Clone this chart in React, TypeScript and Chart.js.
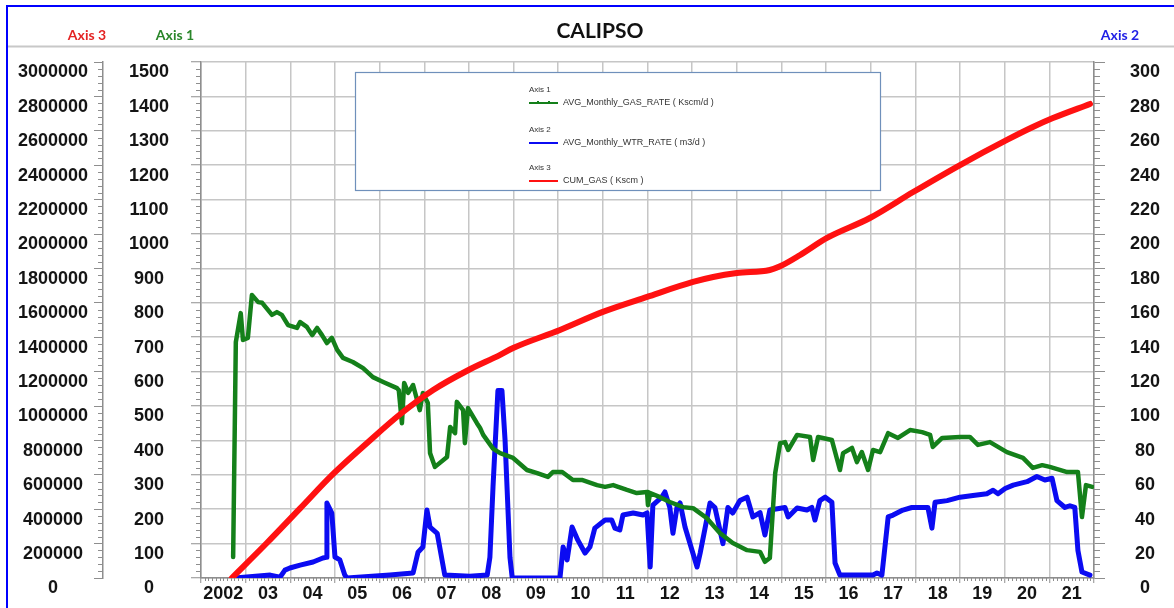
import React, { useEffect, useRef } from "react";
import { Chart, registerables } from "chart.js";

Chart.register(...registerables);

// ---------- text ----------
const TITLE = "CALIPSO";
const AXIS1_NAME = "Axis 1";
const AXIS2_NAME = "Axis 2";
const AXIS3_NAME = "Axis 3";
const GAS_LABEL = "AVG_Monthly_GAS_RATE ( Kscm/d )";
const WTR_LABEL = "AVG_Monthly_WTR_RATE ( m3/d )";
const CUM_LABEL = "CUM_GAS ( Kscm )";
const YEAR_LABELS = ["2002", "03", "04", "05", "06", "07", "08", "09", "10", "11", "12", "13", "14", "15", "16", "17", "18", "19", "20", "21", ""];

// ---------- axes ----------
const X_MIN = 2002;
const X_MAX = 2022;
const AXIS1_MAX = 1500;
const AXIS1_STEP = 100;
const AXIS2_MAX = 300;
const AXIS2_STEP = 20;
const AXIS3_MAX = 3000000;
const AXIS3_STEP = 200000;

// ---------- series: AVG_Monthly_GAS_RATE (Axis 1) ----------
const gasYears = [
  2002.72, 2002.78, 2002.89, 2002.94, 2003.05, 2003.14, 2003.28, 2003.37, 2003.59, 2003.70,
  2003.81, 2003.95, 2004.15, 2004.22, 2004.37, 2004.49, 2004.60, 2004.71, 2004.82, 2004.93,
  2005.05, 2005.18, 2005.40, 2005.63, 2005.85, 2006.08, 2006.39, 2006.43, 2006.50, 2006.55,
  2006.64, 2006.75, 2006.90, 2006.97, 2007.08, 2007.13, 2007.24, 2007.51, 2007.58, 2007.69,
  2007.73, 2007.87, 2007.91, 2007.98, 2008.18, 2008.25, 2008.32, 2008.54, 2008.70, 2008.99,
  2009.30, 2009.53, 2009.77, 2009.88, 2010.09, 2010.33, 2010.53, 2010.87, 2011.05, 2011.23,
  2011.54, 2011.76, 2011.99, 2012.01, 2012.06, 2012.28, 2012.50, 2012.80, 2013.02, 2013.33,
  2013.62, 2013.91, 2014.23, 2014.52, 2014.63, 2014.74, 2014.86, 2014.97, 2015.08, 2015.15,
  2015.35, 2015.64, 2015.71, 2015.82, 2016.13, 2016.31, 2016.38, 2016.58, 2016.69, 2016.80,
  2016.94, 2017.05, 2017.21, 2017.39, 2017.61, 2017.88, 2018.15, 2018.33, 2018.39, 2018.60,
  2019.00, 2019.22, 2019.40, 2019.67, 2020.05, 2020.41, 2020.63, 2020.84, 2021.01, 2021.40,
  2021.64, 2021.73, 2021.82, 2021.96,
];
const gasRate = [
  61, 686, 770, 692, 698, 823, 802, 800, 765, 773,
  765, 735, 727, 744, 730, 706, 727, 706, 683, 698,
  663, 640, 628, 610, 584, 570, 552, 546, 450, 567,
  538, 561, 488, 538, 509, 363, 323, 352, 439, 421,
  512, 488, 392, 494, 450, 436, 416, 376, 363, 349,
  314, 305, 294, 308, 308, 285, 285, 270, 265, 270,
  256, 247, 250, 212, 247, 235, 221, 206, 203, 174,
  131, 102, 81, 76, 47, 58, 305, 392, 395, 372,
  416, 410, 343, 410, 401, 314, 363, 378, 337, 366,
  314, 372, 366, 421, 407, 430, 424, 416, 381, 407,
  410, 410, 387, 395, 366, 349, 320, 328, 323, 308,
  308, 177, 270, 265,
];

// ---------- series: AVG_Monthly_WTR_RATE (Axis 2) ----------
const wtrYears = [
  2002.76, 2003.55, 2003.77, 2003.88, 2003.99, 2004.22, 2004.51, 2004.73, 2004.80, 2004.82,
  2004.93, 2005.00, 2005.11, 2005.22, 2005.27, 2006.23, 2006.75, 2006.86, 2006.97, 2007.06,
  2007.13, 2007.29, 2007.46, 2008.02, 2008.41, 2008.47, 2008.54, 2008.65, 2008.74, 2008.81,
  2008.92, 2008.97, 2010.04, 2010.11, 2010.20, 2010.31, 2010.44, 2010.60, 2010.71, 2010.82,
  2011.05, 2011.20, 2011.27, 2011.38, 2011.45, 2011.68, 2011.90, 2011.99, 2012.06, 2012.12,
  2012.32, 2012.39, 2012.50, 2012.57, 2012.66, 2012.73, 2012.84, 2013.11, 2013.18, 2013.40,
  2013.51, 2013.69, 2013.80, 2013.91, 2014.07, 2014.23, 2014.36, 2014.52, 2014.63, 2014.74,
  2015.08, 2015.15, 2015.35, 2015.57, 2015.68, 2015.75, 2015.86, 2015.98, 2016.13, 2016.20,
  2016.31, 2017.05, 2017.14, 2017.25, 2017.39, 2017.50, 2017.72, 2017.92, 2018.28, 2018.37,
  2018.44, 2018.71, 2019.00, 2019.29, 2019.60, 2019.74, 2019.85, 2020.01, 2020.19, 2020.50,
  2020.72, 2020.90, 2021.06, 2021.17, 2021.35, 2021.46, 2021.57, 2021.64, 2021.73, 2021.91,
];
const wtrRate = [
  0, 1.7, 0.5, 4.6, 5.8, 7.5, 9.3, 11.6, 12, 43.6,
  37.8, 12.2, 10.5, 1.7, 0, 1.7, 2.9, 15, 18, 39.5,
  29.6, 26, 1.7, 1, 1.7, 12, 53, 109, 109, 80,
  12, 0, 0, 18, 10.5, 29.6, 22, 14.5, 18, 29,
  33.7, 33.7, 29, 27.9, 36.6, 37.8, 36.6, 37.8, 6.4, 42.4,
  47, 50, 41, 26, 41, 43.6, 29.6, 6.4, 14.5, 43.6,
  41, 20, 41, 37.8, 45, 47, 35.5, 38, 25, 39.5,
  41, 35.5, 40.7, 39.5, 41, 33.7, 45, 47, 44, 8.7,
  1.7, 1.7, 2.9, 1.7, 35.5, 36.6, 39.5, 41, 41, 29,
  44, 45, 47, 48, 49, 51, 49, 52, 54, 56,
  59, 57, 58, 45, 41, 42, 41, 16, 3.5, 1.7,
];

// ---------- series: CUM_GAS (Axis 3) ----------
const cumYears = [
  2002.69, 2003.48, 2004.22, 2004.96, 2005.72, 2006.46, 2007.20, 2007.96, 2008.70,
  2008.99, 2010.04, 2011.00, 2011.99, 2013.02, 2013.47, 2014.00, 2014.74, 2014.97, 2015.42,
  2016.02, 2016.98, 2017.95, 2019.00, 2020.05, 2020.63, 2021.08, 2021.91,
];
const cumGas = [
  0, 205000, 405000, 605000, 785000, 952000, 1093000, 1205000, 1297000,
  1337000, 1442000, 1547000, 1634000, 1721000, 1750000, 1773000, 1791000, 1812000, 1878000,
  1977000, 2093000, 2244000, 2401000, 2547000, 2622000, 2674000, 2756000,
];

// ---------- styling ----------
const GREEN = "#14801a";
const BLUE = "#0b0bf2";
const RED = "#ff1111";
const GRID = "#c6c6c6";
const TICK = "#8e8e8e";
const TICK_FONT = "'Liberation Sans', Arial, sans-serif";
const HEAD_FONT = "Lato, 'Open Sans', sans-serif";

const zip = (xs: number[], ys: number[]) => xs.map((x, i) => ({ x, y: ys[i] }));

const decorPlugin = {
  id: "decor",
  beforeDraw(chart: any) {
    const ctx = chart.ctx;
    ctx.save();
    // outer frame (blue)
    ctx.strokeStyle = "#0000ff";
    ctx.lineWidth = 2;
    ctx.beginPath();
    ctx.moveTo(7, 608);
    ctx.lineTo(7, 6);
    ctx.lineTo(1174, 6);
    ctx.stroke();
    // header separator
    ctx.strokeStyle = "#c8c8c8";
    ctx.lineWidth = 2;
    ctx.beginPath();
    ctx.moveTo(8, 46.5);
    ctx.lineTo(1174, 46.5);
    ctx.stroke();
    // title
    ctx.textAlign = "center";
    ctx.textBaseline = "middle";
    ctx.fillStyle = "#111";
    ctx.font = `bold 21px ${HEAD_FONT}`;
    ctx.fillText(TITLE, 600, 31);
    // axis names
    ctx.font = `bold 14px ${HEAD_FONT}`;
    ctx.fillStyle = "#e42424";
    ctx.fillText(AXIS3_NAME, 87, 35);
    ctx.fillStyle = "#2a862a";
    ctx.fillText(AXIS1_NAME, 175, 35);
    ctx.fillStyle = "#2222e6";
    ctx.fillText(AXIS2_NAME, 1120, 35);
    ctx.restore();
  },
  afterDraw(chart: any) {
    const ctx = chart.ctx;
    const area = chart.chartArea;
    ctx.save();
    ctx.strokeStyle = TICK;
    ctx.lineWidth = 1;
    // minor ticks on y axes
    const ys = [
      { s: chart.scales.y3, left: true, len: 5 },
      { s: chart.scales.y1, left: true, len: 5 },
      { s: chart.scales.y2, left: false, len: 6 },
    ];
    for (const { s, left, len } of ys) {
      const step = s.options.ticks.stepSize / 5;
      const n = Math.round((s.max - s.min) / step);
      ctx.beginPath();
      for (let i = 0; i <= n; i++) {
        if (i % 5 === 0) continue;
        const py = Math.round(s.getPixelForValue(s.min + i * step)) + 0.5;
        if (left) {
          ctx.moveTo(s.right - len, py);
          ctx.lineTo(s.right, py);
        } else {
          ctx.moveTo(s.left, py);
          ctx.lineTo(s.left + len, py);
        }
      }
      ctx.stroke();
    }
    // monthly minor ticks on x axis
    const xs = chart.scales.x;
    ctx.beginPath();
    for (let m = 0; m <= (X_MAX - X_MIN) * 12; m++) {
      if (m % 12 === 0) continue;
      const px = Math.round(xs.getPixelForValue(X_MIN + m / 12)) + 0.5;
      ctx.moveTo(px, area.bottom);
      ctx.lineTo(px, area.bottom + 3);
    }
    ctx.stroke();

    // legend box
    const lx = 355.5, ly = 72.5, lw = 525, lh = 118;
    ctx.fillStyle = "#ffffff";
    ctx.fillRect(lx, ly, lw, lh);
    ctx.strokeStyle = "#6f90bb";
    ctx.lineWidth = 1.2;
    ctx.strokeRect(lx, ly, lw, lh);
    const items = [
      { axis: AXIS1_NAME, ds: chart.data.datasets[1], y: 90, marks: true },
      { axis: AXIS2_NAME, ds: chart.data.datasets[2], y: 130, marks: false },
      { axis: AXIS3_NAME, ds: chart.data.datasets[0], y: 168, marks: false },
    ];
    ctx.textAlign = "left";
    ctx.textBaseline = "middle";
    for (const it of items) {
      ctx.fillStyle = "#333";
      ctx.font = `8px ${TICK_FONT}`;
      ctx.fillText(it.axis, 529, it.y);
      const ly2 = it.y + 13;
      ctx.strokeStyle = it.ds.borderColor;
      ctx.lineWidth = 2;
      ctx.beginPath();
      ctx.moveTo(529, ly2);
      ctx.lineTo(558, ly2);
      if (it.marks) {
        ctx.moveTo(538, ly2 - 2);
        ctx.lineTo(538, ly2 + 1);
        ctx.moveTo(549, ly2 - 2);
        ctx.lineTo(549, ly2 + 1);
      }
      ctx.stroke();
      ctx.fillStyle = "#333";
      ctx.font = `9px ${TICK_FONT}`;
      ctx.fillText(it.ds.label, 563, ly2);
    }
    ctx.restore();
  },
};

const zeroPad = (s: any) => {
  s.paddingTop = 0;
  s.paddingBottom = 0;
  s.paddingLeft = 0;
  s.paddingRight = 0;
};

export default function App() {
  const ref = useRef<HTMLCanvasElement | null>(null);

  useEffect(() => {
    if (!ref.current) return;
    const tickFont = { family: TICK_FONT, size: 18, weight: "bold" as const };
    const chart = new Chart(ref.current, {
      type: "line",
      data: {
        datasets: [
          {
            label: CUM_LABEL,
            data: zip(cumYears, cumGas),
            yAxisID: "y3",
            borderColor: RED,
            backgroundColor: RED,
            borderWidth: 6,
            pointRadius: 0,
            cubicInterpolationMode: "monotone",
            order: 1,
          },
          {
            label: GAS_LABEL,
            data: zip(gasYears, gasRate),
            yAxisID: "y1",
            borderColor: GREEN,
            backgroundColor: GREEN,
            borderWidth: 4.5,
            pointRadius: 0,
            order: 2,
          },
          {
            label: WTR_LABEL,
            data: zip(wtrYears, wtrRate),
            yAxisID: "y2",
            borderColor: BLUE,
            backgroundColor: BLUE,
            borderWidth: 5,
            pointRadius: 0,
            order: 3,
          },
        ],
      },
      options: {
        responsive: false,
        animation: false,
        events: [],
        layout: { padding: { top: 62, left: 0, right: 0, bottom: 0 } },
        elements: { line: { tension: 0, borderJoinStyle: "round", borderCapStyle: "round" } },
        plugins: {
          legend: { display: false },
          title: { display: false },
          tooltip: { enabled: false },
        },
        scales: {
          x: {
            type: "linear",
            position: "bottom",
            min: X_MIN,
            max: X_MAX,
            afterFit: (s: any) => {
              s.height = 30;
              zeroPad(s);
            },
            ticks: {
              stepSize: 1,
              autoSkip: false,
              maxRotation: 0,
              labelOffset: 22.3,
              padding: 0,
              color: "#141414",
              font: tickFont,
              callback: (v: any) => YEAR_LABELS[Math.round(Number(v) - X_MIN)] ?? "",
            },
            grid: { color: GRID, lineWidth: 1.5, tickLength: 5, tickColor: TICK, tickWidth: 1 },
            border: { color: TICK, width: 1.5 },
          },
          y1: {
            type: "linear",
            position: "left",
            weight: 0,
            min: 0,
            max: AXIS1_MAX,
            afterFit: (s: any) => {
              s.width = 98;
              zeroPad(s);
            },
            ticks: {
              stepSize: AXIS1_STEP,
              autoSkip: false,
              labelOffset: 10.5,
              crossAlign: "center",
              padding: 22,
              color: "#141414",
              font: tickFont,
              callback: (v: any) => String(v),
            },
            grid: { color: GRID, lineWidth: 1.5, tickLength: 10, tickColor: TICK, tickWidth: 1 },
            border: { color: TICK, width: 1.5 },
          },
          y3: {
            type: "linear",
            position: "left",
            weight: 1,
            min: 0,
            max: AXIS3_MAX,
            afterFit: (s: any) => {
              s.width = 103;
              zeroPad(s);
            },
            ticks: {
              stepSize: AXIS3_STEP,
              autoSkip: false,
              labelOffset: 10.5,
              crossAlign: "center",
              padding: 6,
              color: "#141414",
              font: tickFont,
              callback: (v: any) => String(v),
            },
            grid: { drawOnChartArea: false, tickLength: 9, tickColor: TICK, tickWidth: 1 },
            border: { color: TICK, width: 1.5 },
          },
          y2: {
            type: "linear",
            position: "right",
            min: 0,
            max: AXIS2_MAX,
            afterFit: (s: any) => {
              s.width = 80;
              zeroPad(s);
            },
            ticks: {
              stepSize: AXIS2_STEP,
              autoSkip: false,
              labelOffset: 10.5,
              crossAlign: "center",
              padding: 25,
              color: "#141414",
              font: tickFont,
              callback: (v: any) => String(v),
            },
            grid: { drawOnChartArea: false, tickLength: 11, tickColor: TICK, tickWidth: 1 },
            border: { color: TICK, width: 1.5 },
          },
        },
      },
      plugins: [decorPlugin],
    });
    return () => chart.destroy();
  }, []);

  return (
    <div style={{ position: "absolute", left: 0, top: 0, width: 1174, height: 608, background: "#fff" }}>
      <canvas ref={ref} width={1174} height={608} style={{ display: "block" }} />
    </div>
  );
}
